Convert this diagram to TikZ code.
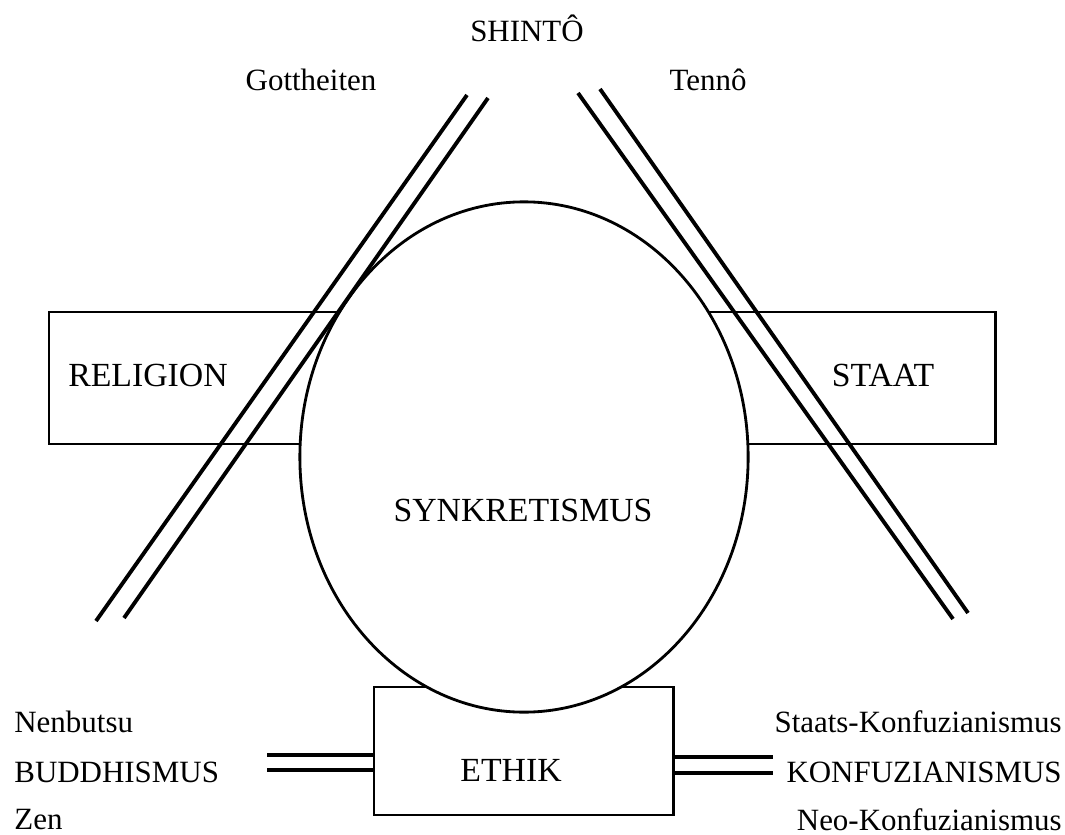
\documentclass[tikz,border=0pt]{standalone}
\usepackage{fontspec}
\setmainfont{Liberation Serif}
\usetikzlibrary{shapes,positioning,calc}

\begin{document}
\begin{tikzpicture}[x=0.01cm, y=-0.01cm, line width=0.8pt,
    every node/.style={font=\fontsize{8.8}{10}\selectfont},
    big/.style={font=\fontsize{9.6}{11}\selectfont},
    side/.style={inner sep=0pt},
    box/.style={draw, rectangle, inner sep=0pt, outer sep=0pt},
    bar/.style={line width=1.1pt}]
    \useasboundingbox (0,0) rectangle (1065,834);

    \node[box, minimum width=3.2cm, minimum height=1.32cm] (religion) at (209,378) {};
    \node[box, minimum width=3.16cm, minimum height=1.32cm] (staat) at (837,378) {};
    \node[box, minimum width=2.99cm, minimum height=1.28cm] (ethik) at (523.5,751) {};
    \node[draw, ellipse, fill=white, inner sep=0pt, outer sep=0pt,
          minimum width=4.48cm, minimum height=5.1cm] (synk) at (524,457) {};

    % Shinto
    \coordinate (gott1) at (467,95);  \coordinate (gott1b) at (96,621);
    \coordinate (gott2) at (488,98);  \coordinate (gott2b) at (124,618);
    \coordinate (tenno1) at (578,93); \coordinate (tenno1b) at (953,619);
    \coordinate (tenno2) at (600,89); \coordinate (tenno2b) at (968,613);
    \draw[bar] (gott1) -- (gott1b);
    \draw[bar] (gott2) -- (gott2b);
    \draw[bar] (tenno1) -- (tenno1b);
    \draw[bar] (tenno2) -- (tenno2b);

    % Buddhismus / Konfuzianismus
    \coordinate (bud1) at (267,755); \coordinate (bud2) at (267,770);
    \coordinate (kon1) at (773,757); \coordinate (kon2) at (773,773);
    \draw[bar] (bud1) -- (bud1 -| ethik.west);
    \draw[bar] (bud2) -- (bud2 -| ethik.west);
    \draw[bar] (ethik.east |- kon1) -- (kon1);
    \draw[bar] (ethik.east |- kon2) -- (kon2);

    \node (shinto) at (527,28) {SHINTÔ};
    \node (gottheiten) at (311,80) {Gottheiten};
    \node (tennotxt) at (708,80) {Tennô};
    \node[big] (religiontxt) at (148,375) {RELIGION};
    \node[big] (staattxt) at (883,375) {STAAT};
    \node[big] (synktxt) at (523,510) {SYNKRETISMUS};
    \node[big] (ethiktxt) at (511,770) {ETHIK};

    \node[side, anchor=west] (nenbutsu) at (13,722) {Nenbutsu};
    \node[side, anchor=west] (buddhismus) at (13,772) {BUDDHISMUS};
    \node[side, anchor=west] (zen) at (13,820) {Zen};
    \node[side, anchor=east] (staatskon) at (1063,722) {Staats-Konfuzianismus};
    \node[side, anchor=east] (konfuz) at (1063,772) {KONFUZIANISMUS};
    \node[side, anchor=east] (neokon) at (1063,820) {Neo-Konfuzianismus};
\end{tikzpicture}
\end{document}
